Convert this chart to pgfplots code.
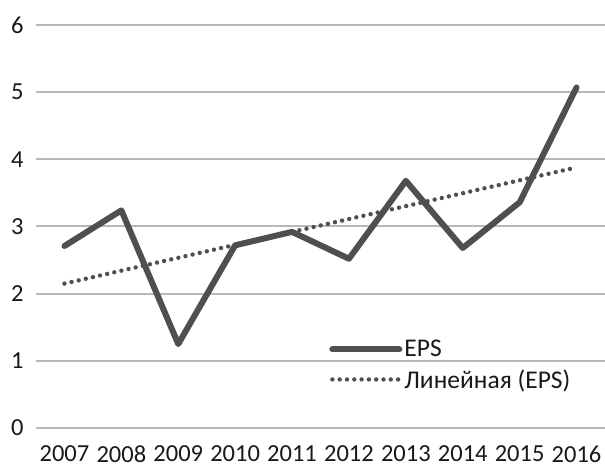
\documentclass[border=0pt]{standalone}
\usepackage{pgfplots}
\pgfplotsset{compat=1.18}
\usepackage{fontspec}
\setmainfont{Carlito}
\definecolor{lineC}{HTML}{4F4F4F}
\definecolor{gridC}{HTML}{B8B8B8}
\begin{document}
\begin{tikzpicture}
\begin{axis}[
  name=ax,
  scale only axis,
  width=569pt, height=403pt,
  xmin=-0.5, xmax=9.5,
  ymin=0, ymax=6,
  xtick={0,...,9},
  xticklabels={2007,2008,2009,2010,2011,2012,2013,2014,2015,2016},
  ytick={0,1,2,3,4,5,6},
  axis line style={draw=none},
  major tick length=0pt,
  ymajorgrids,
  grid style={gridC, line width=2pt},
  tick label style={font=\fontsize{24.5}{28}\selectfont, text=black!90},
  yticklabel style={anchor=east, xshift=-9pt},
  xticklabel style={anchor=north, yshift=-14pt},
  /pgf/number format/assume math mode=true,
  clip=false,
  legend style={draw=none, fill=none, at={(0.51,0.228)}, anchor=north west,
    font=\fontsize{25.5}{29}\selectfont, row sep=7pt, text=black!90,
    /tikz/every even column/.append style={column sep=4pt}},
  legend cell align=left,
  legend image code/.code={\draw[#1] (0pt,0pt) -- (67pt,0pt);},
]
\addplot[lineC, line width=6pt, line join=round, line cap=round] coordinates {
(0,2.71) (1,3.24) (2,1.25) (3,2.72) (4,2.92) (5,2.52) (6,3.68) (7,2.68) (8,3.36) (9,5.07)};
\addlegendentry{EPS}
\addplot[lineC, line width=4.4pt, line cap=round, dash pattern=on 0pt off 7.3pt] coordinates {
(0,2.15) (9,3.88)};
\addlegendentry{Линейная (EPS)}
\end{axis}
\pgfresetboundingbox
\useasboundingbox ([xshift=-36pt,yshift=-40pt]ax.south west) rectangle ([xshift=0pt,yshift=25pt]ax.north east);
\end{tikzpicture}
\end{document}
